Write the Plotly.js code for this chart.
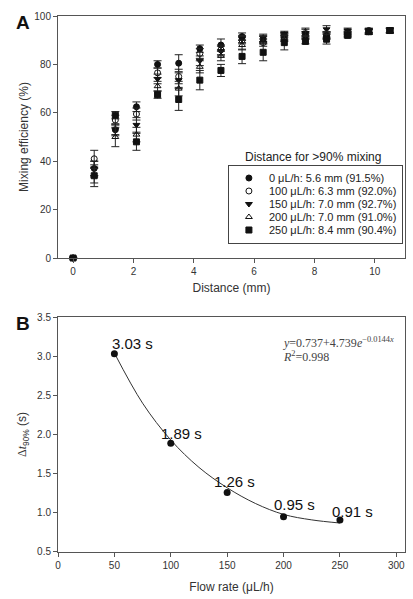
<!DOCTYPE html>
<html>
<head>
<meta charset="utf-8">
<script src="https://cdn.plot.ly/plotly-3.0.1.min.js"></script>
<style>
html,body{margin:0;padding:0;background:#fff;overflow:hidden;}
#chart{width:413px;height:599px;}
</style>
</head>
<body>
<div id="chart"></div>
<script>
// ---- Panel A data ----
const distance = [0, 0.7, 1.4, 2.1, 2.8, 3.5, 4.2, 4.9, 5.6, 6.3, 7.0, 7.7, 8.4, 9.1, 9.8, 10.5];
const seriesNames = [
  "0 μL/h: 5.6 mm (91.5%)",
  "100 μL/h: 6.3 mm (92.0%)",
  "150 μL/h: 7.0 mm (92.7%)",
  "200 μL/h: 7.0 mm (91.0%)",
  "250 μL/h: 8.4 mm (90.4%)"
];
const eff0   = [0, 37, 53, 62.5, 80, 80.5, 86.5, 88, 91.5, 90.5, 92, 92, 92, 93, 94, 94];
const eff100 = [0, 41, 57, 59.5, 76.5, 75, 84.5, 86, 90, 89, 91.5, 92, 92, 93.5, 93.5, 94];
const eff150 = [0, 37, 53, 55, 74, 73.5, 81.5, 85.5, 90.5, 91, 92.7, 93, 94.5, 94, 94, 94];
const eff200 = [0, 34, 50, 51, 71, 70, 79, 83.5, 88, 90, 91, 93.5, 92, 92.5, 93.5, 94];
const eff250 = [0, 34, 59, 48, 67.5, 65.5, 73.5, 77.5, 83.3, 85, 89, 89.5, 90.4, 92, 93.5, 94];
const err0   = [0, 3, 2, 2, 1.5, 3.5, 1.5, 2.5, 1.5, 1.5, 1, 1, 1, 0.8, 0.8, 0.8];
const err100 = [0, 3.5, 2, 2.5, 2, 3, 2, 2, 1.5, 1.5, 1.5, 1.5, 1.5, 1, 1, 1];
const err150 = [0, 3, 2.5, 3, 2, 3, 2, 2, 1.5, 1.5, 1, 1.5, 1.5, 1, 1, 1];
const err200 = [0, 3, 4, 3, 2, 3, 2.5, 2, 2, 1.5, 1.5, 1.5, 1.5, 1, 1, 1];
const err250 = [0, 4.5, 1.5, 3.5, 1.5, 4.5, 4, 2.5, 3, 3.5, 3, 1, 2, 1, 1, 1];

// ---- Panel B data ----
const flowRate = [50, 100, 150, 200, 250];
const dt90 = [3.03, 1.89, 1.26, 0.95, 0.91];
const dtLabels = ["3.03 s", "1.89 s", "1.26 s", "0.95 s", "0.91 s"];
const fitX = [50, 75, 100, 125, 150, 175, 200, 225, 250];
const fitY = [3.04, 2.40, 1.93, 1.58, 1.32, 1.12, 0.98, 0.91, 0.87];

// styling (not data)
const symbols = ["circle", "circle-open", "triangle-down", "triangle-up-open", "square"];
const effs = [eff0, eff100, eff150, eff200, eff250];
const errs = [err0, err100, err150, err200, err250];
const labelShiftX = [18, 11, 7, 11, 13];
const labelShiftY = [10, 10, 11, 12, 8];

const FONT = "Liberation Sans, Arial, sans-serif";
const SERIF = "Liberation Serif, Times New Roman, serif";
const AX = "#555";
const TXT = "#333";

const traces = [];
for (let i = 0; i < 5; i++) {
  traces.push({
    x: distance, y: effs[i], type: "scatter", mode: "markers",
    name: seriesNames[i], xaxis: "x", yaxis: "y", cliponaxis: false,
    marker: {symbol: symbols[i], size: 6, color: "#111", line: {color: "#111", width: 1}},
    error_y: {type: "data", array: errs[i], visible: true, color: "#222", thickness: 1, width: 4}
  });
}
traces.push({
  x: fitX, y: fitY, type: "scatter", mode: "lines", line: {shape: "spline", color: "#333", width: 1},
  xaxis: "x2", yaxis: "y2", showlegend: false, hoverinfo: "skip"
});
traces.push({
  x: flowRate, y: dt90, type: "scatter", mode: "markers", cliponaxis: false,
  marker: {symbol: "circle", size: 7, color: "#111"},
  xaxis: "x2", yaxis: "y2", showlegend: false
});

const annotations = [
  {text: "<b>A</b>", xref: "paper", yref: "paper", x: -0.1, y: 0.9888, xanchor: "center", yanchor: "middle",
   showarrow: false, font: {family: FONT, size: 19, color: "#111"}},
  {text: "<b>B</b>", xref: "paper", yref: "paper", x: -0.1, y: 0.4267, xanchor: "center", yanchor: "middle",
   showarrow: false, font: {family: FONT, size: 19, color: "#111"}},
  {text: "Distance for >90% mixing", xref: "paper", yref: "paper", x: 0.533, y: 0.737, xanchor: "left", yanchor: "middle",
   showarrow: false, font: {family: FONT, size: 12, color: "#222"}},
  {text: "<i>y</i>=0.737+4.739<i>e</i><sup>−0.0144<i>x</i></sup>", xref: "x2", yref: "y2", x: 197.7, y: 3.17,
   xanchor: "left", yanchor: "middle", showarrow: false, font: {family: SERIF, size: 12, color: "#444"}},
  {text: "<i>R</i><sup>2</sup>=0.998", xref: "x2", yref: "y2", x: 197.7, y: 2.99,
   xanchor: "left", yanchor: "middle", showarrow: false, font: {family: SERIF, size: 12, color: "#444"}}
];
for (let i = 0; i < flowRate.length; i++) {
  annotations.push({
    text: dtLabels[i], xref: "x2", yref: "y2", x: flowRate[i], y: dt90[i],
    xanchor: "center", yanchor: "middle", xshift: labelShiftX[i], yshift: labelShiftY[i],
    showarrow: false, font: {family: FONT, size: 15, color: "#111"}
  });
}

const axisCommon = {
  showline: true, linecolor: AX, linewidth: 1, mirror: true,
  ticks: "outside", ticklen: 4, tickcolor: AX, tickwidth: 1,
  showgrid: false, zeroline: false, automargin: false,
  tickfont: {family: FONT, size: 10, color: TXT}
};

const layout = {
  width: 413, height: 599,
  margin: {l: 58, r: 8, t: 16, b: 47, autoexpand: false},
  paper_bgcolor: "#fff", plot_bgcolor: "#fff",
  font: {family: FONT, color: TXT},
  showlegend: true,
  legend: {
    x: 0.994, y: 0.722, xref: "paper", yref: "paper", xanchor: "right", yanchor: "top",
    bordercolor: "#444", borderwidth: 1, bgcolor: "#fff",
    font: {family: FONT, size: 11, color: "#222"}, itemwidth: 30, tracegroupgap: 0
  },
  xaxis: Object.assign({}, axisCommon, {
    domain: [0, 1], anchor: "y", range: [-0.5, 11], tickvals: [0, 2, 4, 6, 8, 10],
    title: {text: "Distance (mm)", font: {family: FONT, size: 12, color: TXT}, standoff: 7}
  }),
  yaxis: Object.assign({}, axisCommon, {
    domain: [0.5485, 1], anchor: "x", range: [0, 100], tickvals: [0, 20, 40, 60, 80, 100],
    title: {text: "Mixing efficiency (%)", font: {family: FONT, size: 12, color: TXT}, standoff: 3}
  }),
  xaxis2: Object.assign({}, axisCommon, {
    domain: [0, 1], anchor: "y2", range: [0, 307.7], tickvals: [0, 50, 100, 150, 200, 250, 300],
    title: {text: "Flow rate (μL/h)", font: {family: FONT, size: 12, color: TXT}, standoff: 12}
  }),
  yaxis2: Object.assign({}, axisCommon, {
    domain: [0, 0.4384], anchor: "x2", range: [0.5, 3.5],
    tickvals: [0.5, 1.0, 1.5, 2.0, 2.5, 3.0, 3.5], tickformat: ".1f",
    title: {text: "<span style=\"font-family:Liberation Serif\">Δ<i>t</i></span><sub>90%</sub> (s)",
            font: {family: FONT, size: 12, color: TXT}, standoff: 7}
  }),
  annotations: annotations
};

Plotly.newPlot("chart", traces, layout, {staticPlot: true, displayModeBar: false}).then(function (gd) {
  // compact the legend rows (Plotly enforces a 19px minimum row height)
  const legend = gd.querySelector("g.legend");
  if (!legend) return;
  const items = legend.querySelectorAll("g.traces");
  const rowH = 13;
  items.forEach(function (el, i) {
    const m = /translate\(([-\d.]+)[ ,]+([-\d.]+)\)/.exec(el.getAttribute("transform") || "");
    const x = m ? +m[1] : 0;
    el.setAttribute("transform", "translate(" + x + "," + (rowH + i * rowH) + ")");
  });
  const bg = legend.querySelector("rect.bg");
  if (bg) bg.setAttribute("height", (items.length + 1) * rowH);
});
</script>
</body>
</html>
